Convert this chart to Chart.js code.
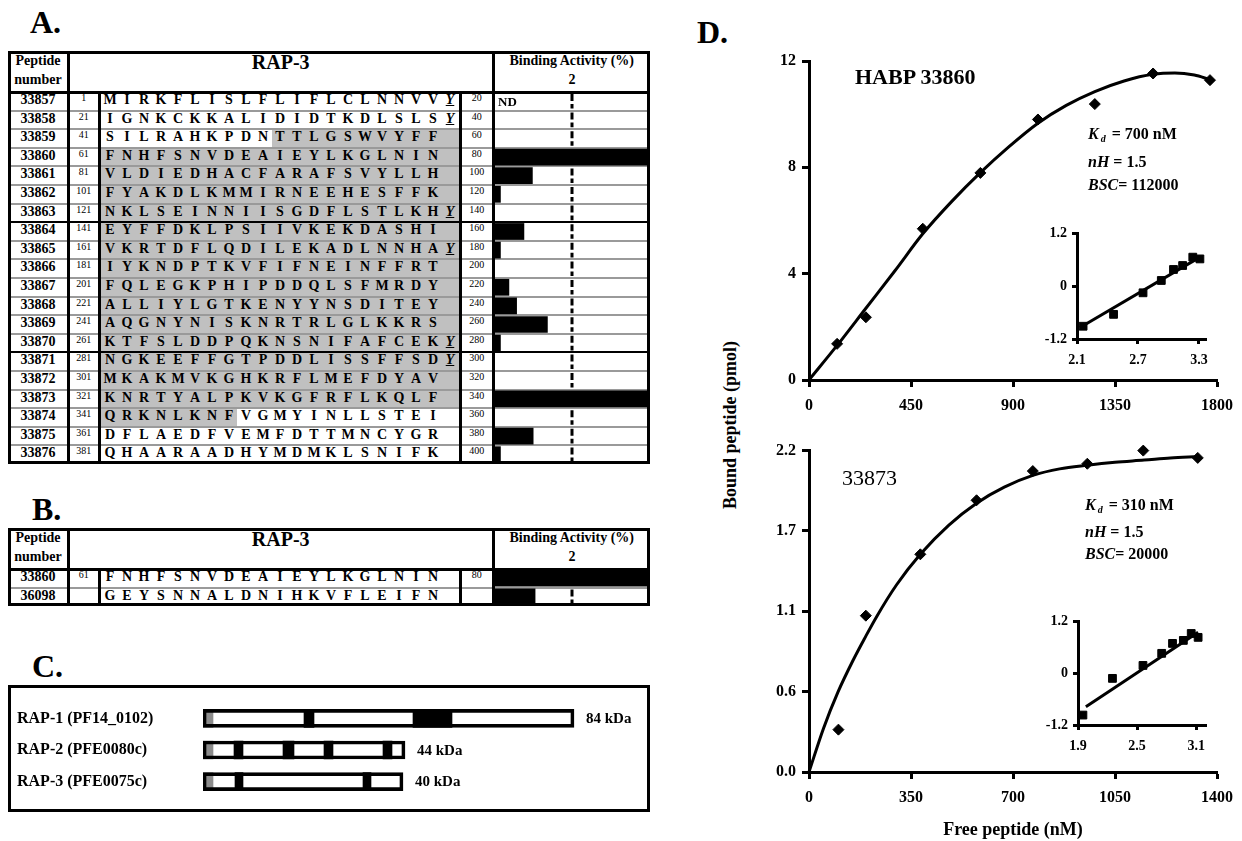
<!DOCTYPE html>
<html><head><meta charset="utf-8"><title>RAP-3 binding</title>
<script src="https://cdn.jsdelivr.net/npm/chart.js@4.4.1/dist/chart.umd.min.js"></script>
<style>
html,body{margin:0;padding:0;background:#fff}
body{width:1242px;height:841px;position:relative;overflow:hidden;font-family:'Liberation Serif','Times New Roman',serif;color:#000}
#root{position:absolute;left:0;top:0;width:1242px;height:841px}
canvas{position:absolute}
.panel{position:absolute;font-weight:bold;font-size:32px;line-height:32px;white-space:nowrap}
.kd{position:absolute;font-weight:bold;font-size:16px;line-height:23px;white-space:nowrap;z-index:5}
.kd sub{font-size:10px;vertical-align:-3px;margin-left:2px;margin-right:2px}
.ytitle{position:absolute;font-weight:bold;font-size:18px;line-height:22px;width:300px;text-align:center;white-space:nowrap;transform:rotate(-90deg);transform-origin:50% 50%}
</style></head><body><div id="root"></div>
<script>
// ---------------- DATA ----------------
// Panel A
const peptideNumbers = ["33857","33858","33859","33860","33861","33862","33863","33864","33865","33866","33867","33868","33869","33870","33871","33872","33873","33874","33875","33876"];
const startPositions = [1,21,41,61,81,101,121,141,161,181,201,221,241,261,281,301,321,341,361,381];
const endPositions = [20,40,60,80,100,120,140,160,180,200,220,240,260,280,300,320,340,360,380,400];
const sequences = [
 "MIRKFLISLFLIFLCLNNVV","IGNKCKKALIDIDTKDLSLS","SILRAHKPDNTTLGSWVYFF","FNHFSNVDEAIEYLKGLNIN",
 "VLDIEDHACFARAFSVYLLH","FYAKDLKMMIRNEEHESFFK","NKLSEINNIISGDFLSTLKH","EYFFDKLPSIIVKEKDASHI",
 "VKRTDFLQDILEKADLNNHA","IYKNDPTKVFIFNEINFFRT","FQLEGKPHIPDDQLSFMRDY","ALLIYLGTKENYYNSDITEY",
 "AQGNYNISKNRTRLGLKKRS","KTFSLDDPQKNSNIFAFCEK","NGKEEFFGTPDDLISSFFSD","MKAKMVKGHKRFLMEFDYAV",
 "KNRTYALPKVKGFRFLKQLF","QRKNLKNFVGMYINLLSTEI","DFLAEDFVEMFDTTMNCYGR","QHAARAADHYMDMKLSNIFK"];
const addedTyrosine = [true,true,false,false,false,false,true,false,true,false,false,false,false,true,true,false,false,false,false,false];
const bindingActivity = [0,0,0,4,0.98,0.15,0,0.76,0.15,0,0.37,0.57,1.37,0.15,0,0,4,0,1.0,0.15];
const bindingNotes = ["ND","","","","","","","","","","","","","","","","","","",""];
const shadedFrom = 51, shadedTo = 348;
const bindingThreshold = 2, bindingMax = 4;
// Panel B
const peptideNumbersB = ["33860","36098"];
const startPositionsB = [61,""];
const endPositionsB = [80,""];
const sequencesB = ["FNHFSNVDEAIEYLKGLNIN","GEYSNNALDNIHKVFLEIFN"];
const bindingActivityB = [4,1.05];
// Panel C
const proteinLabels = ["RAP-1 (PF14_0102)","RAP-2 (PFE0080c)","RAP-3 (PFE0075c)"];
const proteinLengths = [742,404,400];
const proteinMass = ["84 kDa","44 kDa","40 kDa"];
const signalPeptide = [[0,20],[0,20],[0,20]];
const blockSet1 = [[202,222],[62,80],[64,80]];
const blockSet2 = [[420,498],[160,182],[320,336]];
const blockSet3 = [null,[242,260],null];
const blockSet4 = [null,[360,378],null];
// Panel D
const freeTop = [124,251,502,756,1010,1261,1518,1769];
const boundTop = [1.36,2.36,5.69,7.79,9.80,10.38,11.53,11.28];
const fitTopX = [0,124,251,380,502,630,756,880,1010,1135,1261,1390,1518,1614,1700,1769];
const fitTopY = [0,1.3,2.7,4.12,5.5,6.72,7.8,8.76,9.66,10.33,10.85,11.25,11.5,11.55,11.47,11.3];
const topXTicks = [0,450,900,1350,1800];
const topYTicks = [0,4,8,12];
const freeBottom = [101,195,382,575,768,955,1147,1334];
const boundBottom = [0.29,1.07,1.49,1.86,2.06,2.11,2.2,2.15];
const fitBottomX = [0,50,100,150,195,231,300,382,480,575,670,768,860,955,1050,1150,1240,1334];
const fitBottomY = [0,0.3,0.55,0.76,0.93,1.06,1.28,1.49,1.69,1.84,1.95,2.03,2.075,2.1,2.12,2.135,2.15,2.16];
const bottomXTicks = [0,350,700,1050,1400];
const bottomYTicks = [0,0.55,1.1,1.65,2.2];
const bottomYLabels = ["0.0","0.6","1.1","1.7","2.2"];
const hillTopX = [2.16,2.46,2.75,2.93,3.05,3.14,3.24,3.31];
const hillTopY = [-0.91,-0.64,-0.15,0.13,0.38,0.47,0.66,0.62];
const hillTopFitX = [2.13,3.31];
const hillTopFitY = [-0.94,0.66];
const hillBottomX = [1.95,2.25,2.56,2.75,2.86,2.97,3.05,3.12];
const hillBottomY = [-0.97,-0.12,0.18,0.46,0.69,0.76,0.92,0.83];
const hillBottomFitX = [1.98,3.12];
const hillBottomFitY = [-0.78,0.95];
const insetTopXTicks = [2.1,2.7,3.3];
const insetTopXLabels = ["2.1","2.7","3.3"];
const insetBottomXTicks = [1.9,2.5,3.1];
const insetBottomXLabels = ["1.9","2.5","3.1"];
const insetYTicks = [-1.2,0,1.2];
const insetYLabels = ["-1.2","0","1.2"];

// ---------------- HELPERS ----------------
const FONT = "'Liberation Serif','Times New Roman',serif";
const root = document.getElementById('root');
const P = v => v + 'px';
function add(tag, style, html){ const e=document.createElement(tag); Object.assign(e.style, style); if(html!=null) e.innerHTML=html; root.appendChild(e); return e; }
function rect(l,t,w,h,bg,z){ return add('div',{position:'absolute',left:P(l),top:P(t),width:P(w),height:P(h),background:bg,zIndex:z}); }
function txt(l,t,w,h,html,font,z,extra){ return add('div',Object.assign({position:'absolute',left:P(l),top:P(t),width:P(w),height:P(h),lineHeight:P(h),textAlign:'center',font:font,whiteSpace:'nowrap',zIndex:z||2},extra||{}),html); }
function canvasAt(l,t,w,h,z){ const c=document.createElement('canvas'); c.width=w; c.height=h; Object.assign(c.style,{left:P(l),top:P(t),width:P(w),height:P(h),zIndex:z}); root.appendChild(c); return c; }

Chart.defaults.font.family = FONT;
Chart.defaults.color = '#000';

// ---------------- TABLES ----------------
const X0=8, X1=68, X2=99.5, X3=460, X4=493.5, X5=650, SLOT0=110, SLOT=17;
const fBold14 = "bold 14px " + FONT, fNum = "10px " + FONT;

const thresholdPlugin = notes => ({
  id:'thr',
  beforeDatasetsDraw(chart){
    const {ctx, scales:{x,y}, chartArea} = chart;
    const px = x.getPixelForValue(bindingThreshold);
    const n = chart.data.labels.length, rh = (chartArea.bottom-chartArea.top)/n;
    ctx.save(); ctx.strokeStyle='#000'; ctx.lineWidth=3; ctx.setLineDash([7,3]);
    for(let i=0;i<n;i++){ const cy=y.getPixelForValue(i); ctx.beginPath(); ctx.moveTo(px, cy-rh/2+2); ctx.lineTo(px, cy+rh/2-2); ctx.stroke(); }
    ctx.restore();
  },
  afterDatasetsDraw(chart){
    const {ctx, scales:{y}, chartArea} = chart;
    ctx.save(); ctx.font = "bold 13px " + FONT; ctx.fillStyle='#000'; ctx.textBaseline='middle';
    (notes||[]).forEach((t,i)=>{ if(t) ctx.fillText(t, chartArea.left+3, y.getPixelForValue(i)+1); });
    ctx.restore();
  }
});

function buildTable(o){
  const {top, headerH, rowH} = o;
  const n = o.peps.length, bodyTop = top+headerH, bottom = bodyTop + n*rowH;
  o.seqs.forEach((s,i)=>{
    if(!o.shade || o.starts[i]==="") return;
    const a = shadedFrom - o.starts[i], b = shadedTo - o.starts[i] + 1;
    if(b<=0 || a>=20) return;
    const x0 = a<=0 ? X2+1.5 : SLOT0 + a*SLOT - SLOT/2;
    const x1 = b>=20 ? X3-1.5 : SLOT0 + b*SLOT - SLOT/2 - 1;
    rect(x0, bodyTop+i*rowH, x1-x0, rowH, '#c0c0c0', 0);
  });
  for(let i=1;i<n;i++){ const y=bodyTop+i*rowH; rect(X0, y-1, X5-X0, 2, (o.heavy||[]).includes(i)?'#000':'#9a9a9a', 1); }
  txt(X0, top+2, X1-X0, 20, 'Peptide', fBold14);
  txt(X0, top+21, X1-X0, 20, 'number', fBold14);
  txt(X1, top, X4-X1, headerH, 'RAP-3', "bold 20px "+FONT);
  txt(X4, top+2, X5-X4, 20, 'Binding Activity (%)', fBold14);
  for(let i=0;i<n;i++){
    const y = bodyTop+i*rowH;
    txt(X0, y, X1-X0, rowH, o.peps[i], fBold14);
    txt(X1, y, X2-X1, rowH, String(o.starts[i]), fNum);
    txt(X3, y, X4-X3, rowH, String(o.ends[i]), fNum);
    o.seqs[i].split('').forEach((c,k)=> txt(SLOT0+k*SLOT-SLOT/2, y, SLOT, rowH, c, fBold14));
    if(o.tyr && o.tyr[i]) txt(SLOT0+20*SLOT-SLOT/2, y, SLOT, rowH, 'Y', "italic bold 14px "+FONT, 2, {textDecoration:'underline'});
  }
  add('div',{position:'absolute',left:P(X0),top:P(top),width:P(X5-X0),height:P(bottom-top),border:'3px solid #000',boxSizing:'border-box',zIndex:3});
  rect(X1-1.5, top, 3, bottom-top, '#000', 3);
  rect(X4-1.5, top, 3, bottom-top, '#000', 3);
  rect(X2-1.5, bodyTop, 3, bottom-bodyTop, '#000', 3);
  rect(X3-1.5, bodyTop, 3, bottom-bodyTop, '#000', 3);
  rect(X0, bodyTop-1.5, X5-X0, 3, '#000', 3);
  const cl = X4+1.5, cw = Math.round(X5-1.5-cl), ch = Math.round(n*rowH);
  const chart = new Chart(canvasAt(cl, bodyTop, cw, ch, 2), {
    type:'bar',
    data:{labels:o.binding.map((_,i)=>String(i)), datasets:[{data:o.binding, backgroundColor:'#000', borderWidth:0, barPercentage:0.9, categoryPercentage:1}]},
    options:{indexAxis:'y', responsive:false, animation:false, events:[], devicePixelRatio:1, layout:{padding:0},
      plugins:{legend:{display:false}, tooltip:{enabled:false}},
      scales:{x:{display:false, min:0, max:bindingMax}, y:{display:false}}},
    plugins:[thresholdPlugin(o.notes)]
  });
  const tx = cl + chart.scales.x.getPixelForValue(bindingThreshold);
  txt(tx-15, top+21, 30, 20, '2', fBold14);
}

buildTable({top:51, headerH:41, rowH:18.6, peps:peptideNumbers, starts:startPositions, ends:endPositions, seqs:sequences, tyr:addedTyrosine, shade:true, heavy:[7,14], binding:bindingActivity, notes:bindingNotes});
buildTable({top:528, headerH:41, rowH:18.6, peps:peptideNumbersB, starts:startPositionsB, ends:endPositionsB, seqs:sequencesB, tyr:null, shade:false, heavy:[], binding:bindingActivityB, notes:null});

add('div',{left:'30px',top:'6px'},'A.').className='panel';
add('div',{left:'32px',top:'493px'},'B.').className='panel';
add('div',{left:'32px',top:'650px'},'C.').className='panel';
add('div',{left:'697px',top:'16px'},'D.').className='panel';

// ---------------- PANEL C ----------------
add('div',{position:'absolute',left:P(8),top:P(685),width:P(642),height:P(127),border:'3px solid #000',boxSizing:'border-box',zIndex:1});
const massPlugin = {id:'mass', afterDatasetsDraw(chart){
  const {ctx, scales:{x,y}} = chart; ctx.save(); ctx.font = "bold 15px "+FONT; ctx.fillStyle='#000'; ctx.textBaseline='middle';
  proteinLengths.forEach((len,i)=> ctx.fillText(proteinMass[i], x.getPixelForValue(len)+12, y.getPixelForValue(i)+1));
  ctx.restore(); }};
const segDs = (data, color, extra) => Object.assign({data, backgroundColor:color, borderWidth:0, grouped:false, barThickness:18}, extra||{});
new Chart(canvasAt(8, 693, 642, 114, 2), {
  type:'bar',
  data:{labels:proteinLabels, datasets:[
    segDs(proteinLengths.map(l=>[0,l]), 'rgba(0,0,0,0)', {borderColor:'#000', borderWidth:3, borderSkipped:false}),
    segDs(blockSet1,'#000'), segDs(blockSet2,'#000'), segDs(blockSet3,'#000'), segDs(blockSet4,'#000'),
    segDs(signalPeptide,'#8c8c8c'),
    segDs(proteinLengths.map(l=>[0,l]), '#fff')
  ]},
  options:{indexAxis:'y', responsive:false, animation:false, events:[], devicePixelRatio:1,
    layout:{padding:{left:9, right:17, top:0, bottom:0}},
    plugins:{legend:{display:false}, tooltip:{enabled:false}},
    scales:{
      x:{display:false, min:0, max:860},
      y:{afterFit:s=>{s.width=186;}, grid:{display:false}, border:{display:false},
         ticks:{crossAlign:'far', padding:0, font:{family:FONT, weight:'bold', size:16}, color:'#000'}}
    }},
  plugins:[massPlugin]
});

// ---------------- PANEL D ----------------
function axis(o){
  return {
    type:'linear', min:o.min, max:o.max,
    afterBuildTicks: s => { s.ticks = o.ticks.map(v=>({value:v})); },
    afterFit: s => { if(o.horizontal) s.height=o.size; else s.width=o.size; },
    ticks:{ callback:(v,i)=>o.labels[i], autoSkip:false, maxRotation:0, minRotation:0, padding:o.pad,
            font:{family:FONT, weight:'bold', size:o.font}, color:'#000' },
    grid:{ display:true, drawOnChartArea:false, drawTicks:true, tickLength:o.tl, tickWidth:3, tickColor:'#000', color:'#000' },
    border:{ display:true, color:'#000', width:3 },
    title: o.title ? {display:true, text:o.title, font:{family:FONT, weight:'bold', size:18}, color:'#000', padding:{top:0,bottom:0}} : {display:false}
  };
}
function xy(xs, ys){ return xs.map((x,i)=>({x, y:ys[i]})); }
function dChart(canvas, pts, fit, style, pad, xAx, yAx, pr){
  return new Chart(canvas, {
    type:'scatter',
    data:{datasets:[
      {data:pts, pointStyle:style, pointRadius:pr, pointBackgroundColor:'#000', pointBorderColor:'#000', pointBorderWidth:1, showLine:false, clip:false},
      {data:fit, showLine:true, pointRadius:0, borderColor:'#000', borderWidth:3, cubicInterpolationMode:'monotone', fill:false, clip:false}
    ]},
    options:{responsive:false, animation:false, events:[], devicePixelRatio:1, layout:{padding:pad},
      plugins:{legend:{display:false}, tooltip:{enabled:false}},
      scales:{x:xAx, y:yAx}}
  });
}
dChart(canvasAt(690,40,552,395,2), xy(freeTop,boundTop), xy(fitTopX,fitTopY), 'rectRot', {left:0,top:21,right:23,bottom:10},
  axis({min:0,max:1800,ticks:topXTicks,labels:topXTicks.map(String),horizontal:true,size:45,pad:9,tl:7,font:16}),
  axis({min:0,max:12,ticks:topYTicks,labels:topYTicks.map(String),size:119,pad:6,tl:7,font:16}), 5.5);
dChart(canvasAt(690,435,552,406,2), xy(freeBottom,boundBottom), xy(fitBottomX,fitBottomY), 'rectRot', {left:0,top:15,right:23,bottom:0},
  axis({min:0,max:1400,ticks:bottomXTicks,labels:bottomXTicks.map(String),horizontal:true,size:69,pad:9,tl:7,font:16,title:'Free peptide (nM)'}),
  axis({min:0,max:2.2,ticks:bottomYTicks,labels:bottomYLabels,size:119,pad:6,tl:7,font:16}), 5.5);
dChart(canvasAt(1020,220,200,155,4), xy(hillTopX,hillTopY), xy(hillTopFitX,hillTopFitY), 'rect', {left:0,top:13,right:14,bottom:0},
  axis({min:2.1,max:3.37,ticks:insetTopXTicks,labels:insetTopXLabels,horizontal:true,size:36,pad:8,tl:5,font:14}),
  axis({min:-1.2,max:1.2,ticks:insetYTicks,labels:insetYLabels,size:57,pad:5,tl:5,font:14}), 5.5);
dChart(canvasAt(1020,608,200,155,4), xy(hillBottomX,hillBottomY), xy(hillBottomFitX,hillBottomFitY), 'rect', {left:0,top:13,right:14,bottom:0},
  axis({min:1.9,max:3.2,ticks:insetBottomXTicks,labels:insetBottomXLabels,horizontal:true,size:38,pad:8,tl:5,font:14}),
  axis({min:-1.2,max:1.2,ticks:insetYTicks,labels:insetYLabels,size:58,pad:5,tl:5,font:14}), 5.5);

add('div',{position:'absolute',left:'855px',top:'66px',font:"bold 22px "+FONT,lineHeight:'22px',whiteSpace:'nowrap',zIndex:5},'HABP 33860');
add('div',{position:'absolute',left:'842px',top:'467px',font:"22px "+FONT,lineHeight:'22px',whiteSpace:'nowrap',zIndex:5},'33873');
add('div',{left:'1088px',top:'122px'},'<div><i>K</i><sub><i>d</i></sub> = 700 nM</div><div><i>nH</i> = 1.5</div><div><i>BSC</i>= 112000</div>').className='kd';
add('div',{left:'1085px',top:'494px',lineHeight:'22px'},'<div><i>K</i><sub><i>d</i></sub> = 310 nM</div><div><i>nH</i> = 1.5</div><div><i>BSC</i>= 20000</div>').className='kd';
add('div',{left:'580px',top:'414px'},'Bound peptide (pmol)').className='ytitle';
</script></body></html>
